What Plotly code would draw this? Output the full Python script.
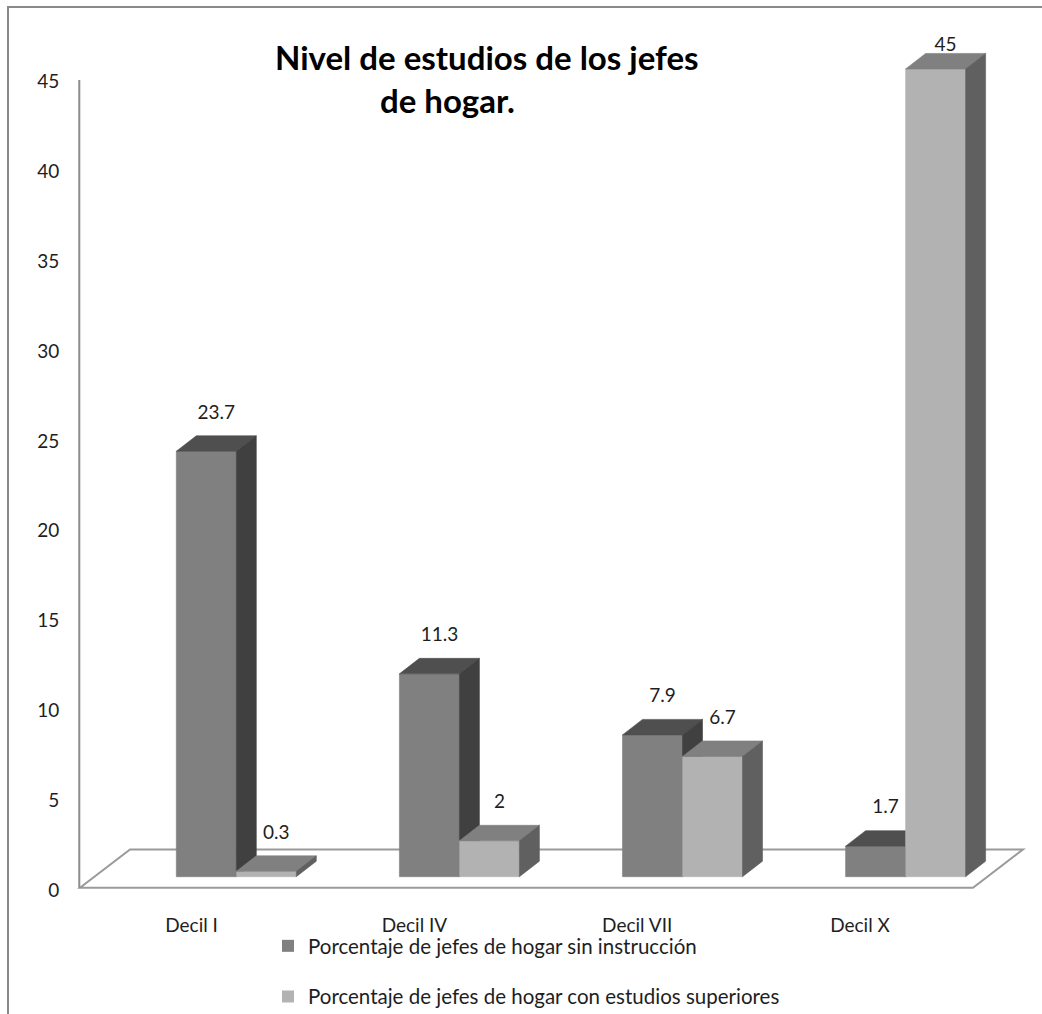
import plotly.graph_objects as go

# ---- data -------------------------------------------------------------
categorias = ["Decil I", "Decil IV", "Decil VII", "Decil X"]
sin_instruccion = [23.7, 11.3, 7.9, 1.7]
estudios_superiores = [0.3, 2, 6.7, 45]
nombres_series = [
    "Porcentaje de jefes de hogar sin instrucción",
    "Porcentaje de jefes de hogar con estudios superiores",
]
y_ticks = [0, 5, 10, 15, 20, 25, 30, 35, 40, 45]

# ---- page geometry (pixels) -------------------------------------------
W, H = 1042, 1014
BASE_PX = 876.7        # bar base line
PPU_Y = 17.95          # pixels per value unit
GROUP0_PX = 236.3      # centre of first category group
PITCH_PX = 223.1       # distance between category groups
BAR_PX = 60            # width of a front face
DEPTH_DX_PX, DEPTH_DY_PX = 20, 15.5   # 3-D depth offset of bars
LABEL_GAP_PX = 22

FONT = "Lato"
TXT = "#1e1e1e"


def v_of(py):
    return (BASE_PX - py) / PPU_Y


def u_of(px):
    return (px - GROUP0_PX) / PITCH_PX


w = BAR_PX / PITCH_PX
dx = DEPTH_DX_PX / PITCH_PX
dy = DEPTH_DY_PX / PPU_Y

estilos = [
    dict(front="#808080", top="#4f4f4f", side="#404040"),
    dict(front="#b2b2b2", top="#808080", side="#606060"),
]

fig = go.Figure()

# 3-D bars: front, top and side faces per series, drawn back to front
for s, valores in enumerate([sin_instruccion, estudios_superiores]):
    caras = {"front": ([], []), "top": ([], []), "side": ([], [])}
    for i, v in enumerate(valores):
        xl = i + (s - 1) * w
        xr = xl + w
        poly = {
            "front": ([xl, xr, xr, xl, xl], [0, 0, v, v, 0]),
            "top": ([xl, xr, xr + dx, xl + dx, xl], [v, v, v + dy, v + dy, v]),
            "side": ([xr, xr + dx, xr + dx, xr, xr], [0, dy, v + dy, v, 0]),
        }
        for k, (px, py) in poly.items():
            caras[k][0].extend(px + [None])
            caras[k][1].extend(py + [None])
    for k in ("front", "top", "side"):
        fig.add_trace(go.Scatter(
            x=caras[k][0], y=caras[k][1], mode="lines", fill="toself",
            fillcolor=estilos[s][k], line=dict(color=estilos[s][k], width=0.6),
            hoverinfo="skip", showlegend=False,
        ))

# value labels above each bar
label_ceil = v_of(46.7)
lx, ly, lt = [], [], []
for s, valores in enumerate([sin_instruccion, estudios_superiores]):
    for i, v in enumerate(valores):
        xl = i + (s - 1) * w
        lx.append(xl + w / 2 + 10 / PITCH_PX)
        ly.append(min(v + dy + LABEL_GAP_PX / PPU_Y, label_ceil))
        lt.append(f"{v:g}")
fig.add_trace(go.Scatter(
    x=lx, y=ly, text=lt, mode="text", textposition="middle center",
    textfont=dict(family=FONT, size=19, color=TXT),
    hoverinfo="skip", showlegend=False,
))

# legend entries
for s, nombre in enumerate(nombres_series):
    fig.add_trace(go.Scatter(
        x=[None], y=[None], mode="markers", name=nombre,
        legendgroup=f"g{s}",
        marker=dict(symbol="square", size=12, color=estilos[s]["front"]),
    ))

# carrier trace for the labelled axes
fig.add_trace(go.Scatter(
    x=[None], y=[None], xaxis="x2", yaxis="y2", mode="markers",
    hoverinfo="skip", showlegend=False,
))

# floor of the 3-D chart and the vertical axis line
floor_front, floor_back = v_of(887.7), v_of(849.5)
fl, fr = u_of(80), u_of(973)
fdx = 50 / PITCH_PX
shapes = [
    dict(type="path", xref="x", yref="y", layer="below",
         path=(f"M {fl},{floor_front} L {fr},{floor_front} "
               f"L {fr + fdx},{floor_back} L {fl + fdx},{floor_back} Z"),
         line=dict(color="#9a9a9a", width=2)),
    dict(type="line", xref="x", yref="y", layer="below",
         x0=u_of(79.3), x1=u_of(79.3), y0=floor_front, y1=v_of(80),
         line=dict(color="#8c8c8c", width=2)),
    dict(type="rect", xref="paper", yref="paper",
         x0=8 / W, x1=1.05, y0=1 - 7 / H, y1=-0.05,
         line=dict(color="#8a8a8a", width=2)),
]

annotations = [
    dict(text="<b>Nivel de estudios de los jefes</b>", xref="paper", yref="paper",
         x=486.5 / W, y=1 - 57 / H, xanchor="center", yanchor="middle",
         showarrow=False, font=dict(family=FONT, size=33, color="#000000")),
    dict(text="<b>de hogar.</b>", xref="paper", yref="paper",
         x=447 / W, y=1 - 100 / H, xanchor="center", yanchor="middle",
         showarrow=False, font=dict(family=FONT, size=33, color="#000000")),
]

LBL0_PX, LBL_PITCH = 191.6, 222.8
TICK0_PX, TICK_PPU = 890, 17.96

fig.update_layout(
    width=W, height=H,
    margin=dict(l=0, r=0, t=0, b=0, autoexpand=False),
    paper_bgcolor="white", plot_bgcolor="white",
    shapes=shapes, annotations=annotations,
    xaxis=dict(domain=[0, 1], range=[u_of(0), u_of(W)], visible=False,
               fixedrange=True),
    yaxis=dict(domain=[0, 1], range=[v_of(H), v_of(0)], visible=False,
               fixedrange=True),
    yaxis2=dict(overlaying="y", anchor="free", position=79.3 / W,
                range=[(TICK0_PX - H) / TICK_PPU, TICK0_PX / TICK_PPU],
                tickvals=y_ticks, showgrid=False, zeroline=False,
                showline=False, ticks="", ticklabelstandoff=20,
                tickfont=dict(family=FONT, size=19, color=TXT)),
    xaxis2=dict(overlaying="x", anchor="free", position=(H - 912) / H,
                side="bottom",
                range=[(0 - LBL0_PX) / LBL_PITCH, (W - LBL0_PX) / LBL_PITCH],
                tickvals=list(range(len(categorias))), ticktext=categorias,
                showgrid=False, zeroline=False, showline=False, ticks="",
                tickfont=dict(family=FONT, size=19, color=TXT)),
    legend=dict(x=268 / W, y=1 - 926 / H, xanchor="left", yanchor="top",
                traceorder="grouped", tracegroupgap=21,
                bgcolor="rgba(0,0,0,0)",
                font=dict(family=FONT, size=20.5, color=TXT)),
    showlegend=True,
)

fig.write_html("out.html")
